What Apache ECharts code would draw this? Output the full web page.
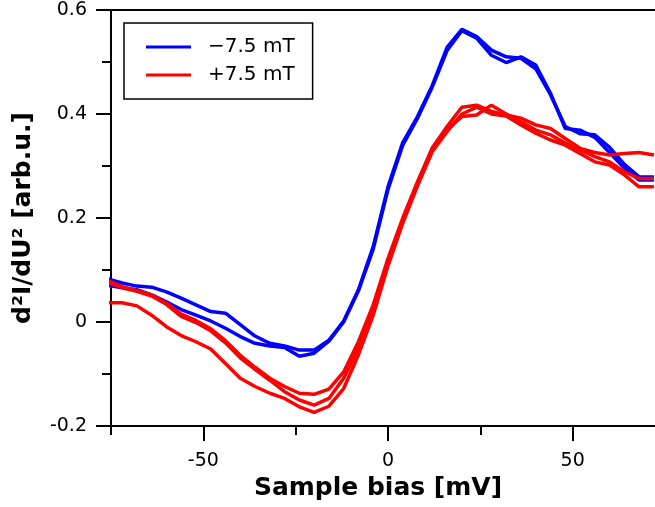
<!DOCTYPE html>
<html>
<head>
<meta charset="utf-8">
<script src="https://cdn.jsdelivr.net/npm/echarts@6/dist/echarts.min.js"></script>
<style>html,body{margin:0;padding:0;background:#fff;}#c{width:655px;height:507px;}</style>
</head>
<body>
<div id="c"></div>
<script>
// ---- data ----
const biasMv = [-76,-72,-68,-64,-60,-56,-52,-48,-44,-40,-36,-32,-28,-24,-20,-16,-12,-8,-4,0,4,8,12,16,20,24,28,32,36,40,44,48,52,56,60,64,68,72];

const blueSweep1 = [0.083,0.075,0.069,0.067,0.058,0.046,0.033,0.020,0.017,-0.005,-0.027,-0.041,-0.046,-0.054,-0.054,-0.035,0.002,0.062,0.145,0.260,0.345,0.395,0.455,0.528,0.563,0.549,0.523,0.510,0.507,0.487,0.437,0.376,0.362,0.360,0.336,0.303,0.279,0.279];
const blueSweep2 = [0.071,0.066,0.062,0.052,0.039,0.024,0.013,0.002,-0.012,-0.028,-0.041,-0.046,-0.049,-0.066,-0.060,-0.037,0.000,0.060,0.140,0.255,0.340,0.392,0.452,0.522,0.560,0.546,0.513,0.499,0.510,0.494,0.440,0.372,0.369,0.355,0.326,0.296,0.273,0.273];

const redSweep1 = [0.080,0.068,0.060,0.052,0.036,0.015,0.003,-0.013,-0.036,-0.064,-0.087,-0.108,-0.124,-0.137,-0.139,-0.129,-0.096,-0.038,0.033,0.122,0.200,0.270,0.335,0.376,0.413,0.417,0.405,0.398,0.392,0.379,0.372,0.353,0.334,0.326,0.321,0.324,0.326,0.321];
const redSweep2 = [0.076,0.066,0.059,0.050,0.034,0.011,-0.001,-0.017,-0.040,-0.069,-0.091,-0.112,-0.134,-0.150,-0.160,-0.147,-0.108,-0.051,0.023,0.115,0.195,0.265,0.330,0.370,0.395,0.398,0.417,0.400,0.385,0.369,0.360,0.344,0.331,0.318,0.308,0.289,0.276,0.276];
const redSweep3 = [0.037,0.037,0.031,0.013,-0.009,-0.026,-0.038,-0.052,-0.080,-0.108,-0.124,-0.137,-0.147,-0.163,-0.174,-0.162,-0.128,-0.063,0.013,0.108,0.190,0.262,0.328,0.366,0.400,0.413,0.400,0.396,0.379,0.363,0.350,0.340,0.324,0.308,0.302,0.283,0.260,0.260];

const seriesNames = ['\u22127.5 mT', '+7.5 mT'];
const xMajorTicks = [-50, 0, 50];
const xMinorTicks = [-75, -25, 25];
const xRange = [-75, 72.3];
const yRange = [-0.2, 0.6];
const yStep = 0.2;
const xTitle = 'Sample bias [mV]';
const yTitle = 'd\u00B2I/dU\u00B2 [arb.u.]';

// ---- chart ----
const FONT = 'DejaVu Sans';
const pair = arr => biasMv.map((x, i) => [x, arr[i]]);
const mkLine = (name, arr, color) => ({
  type: 'line', name, data: pair(arr), xAxisIndex: 0, yAxisIndex: 0,
  showSymbol: false, symbol: 'none', clip: true, animation: false,
  lineStyle: { color, width: 3.5 }, itemStyle: { color }
});

const gridPos = { left: 111, right: 0, top: 10, bottom: 81, containLabel: false };
const chart = echarts.init(document.getElementById('c'), null, { renderer: 'canvas' });
chart.setOption({
  animation: false,
  backgroundColor: '#fff',
  textStyle: { fontFamily: FONT },
  grid: [Object.assign({}, gridPos), Object.assign({}, gridPos)],
  legend: {
    orient: 'vertical', left: 124, top: 23,
    data: seriesNames,
    icon: 'rect', itemWidth: 45, itemHeight: 3, itemGap: 8,
    padding: [14, 18, 14, 22],
    borderColor: '#000', borderWidth: 1.5, borderRadius: 0,
    textStyle: { fontFamily: FONT, fontSize: 20, color: '#000', lineHeight: 20, padding: [0, 0, 0, 12] }
  },
  xAxis: [
    {
      type: 'value', gridIndex: 0, position: 'bottom', min: xRange[0], max: xRange[1],
      splitLine: { show: false },
      axisLine: { show: true, onZero: false, lineStyle: { color: '#000', width: 2 } },
      axisTick: { show: true, inside: false, length: 15, customValues: xMajorTicks, lineStyle: { color: '#000', width: 2 } },
      axisLabel: { show: true, customValues: xMajorTicks, margin: 26, fontFamily: FONT, fontSize: 19, color: '#000' },
      name: xTitle, nameLocation: 'middle', nameGap: 49,
      nameTextStyle: { fontFamily: FONT, fontSize: 25, fontWeight: 'bold', color: '#000', padding: [0, 10, 0, 0] }
    },
    {
      type: 'value', gridIndex: 0, position: 'top', min: xRange[0], max: xRange[1],
      splitLine: { show: false },
      axisLine: { show: true, onZero: false, lineStyle: { color: '#000', width: 2 } },
      axisTick: { show: false }, axisLabel: { show: false }
    },
    {
      type: 'value', gridIndex: 1, position: 'bottom', min: xRange[0], max: xRange[1],
      splitLine: { show: false },
      axisLine: { show: false, onZero: false },
      axisTick: { show: true, inside: false, length: 9, customValues: xMinorTicks, lineStyle: { color: '#000', width: 2 } },
      axisLabel: { show: false }
    }
  ],
  yAxis: [
    {
      type: 'value', gridIndex: 0, position: 'left', min: yRange[0], max: yRange[1], interval: yStep,
      splitLine: { show: false },
      axisLine: { show: true, onZero: false, lineStyle: { color: '#000', width: 2 } },
      axisTick: { show: true, inside: false, length: 15, lineStyle: { color: '#000', width: 2 } },
      minorTick: { show: true, splitNumber: 2, length: 9, lineStyle: { color: '#000', width: 2 } },
      axisLabel: { show: true, margin: 24, fontFamily: FONT, fontSize: 19, color: '#000' },
      name: yTitle, nameLocation: 'middle', nameGap: 75,
      nameTextStyle: { fontFamily: FONT, fontSize: 25, fontWeight: 'bold', color: '#000' }
    },
    {
      type: 'value', gridIndex: 1, min: yRange[0], max: yRange[1], show: false
    }
  ],
  series: [
    mkLine(seriesNames[0], blueSweep1, '#0000ff'),
    mkLine(seriesNames[0], blueSweep2, '#0000ff'),
    mkLine(seriesNames[1], redSweep1, '#ff0000'),
    mkLine(seriesNames[1], redSweep2, '#ff0000'),
    mkLine(seriesNames[1], redSweep3, '#ff0000')
  ]
});
</script>
</body>
</html>
